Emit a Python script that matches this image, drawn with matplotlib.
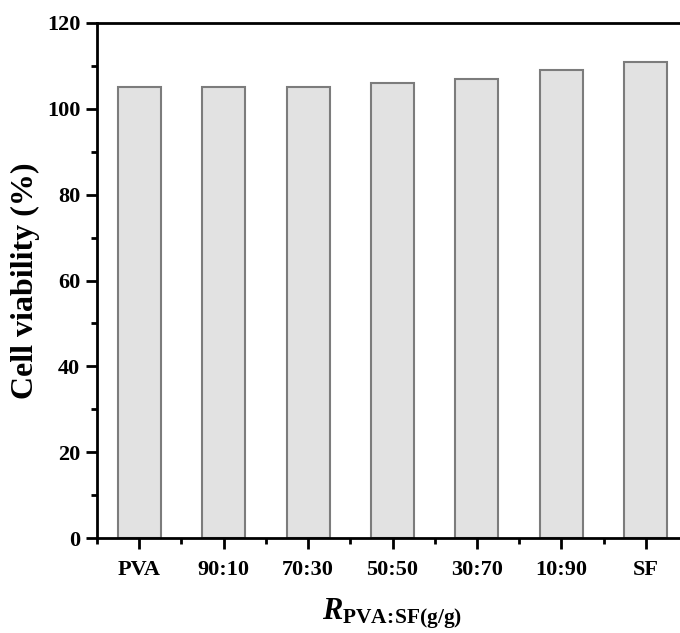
import matplotlib
matplotlib.use('Agg')
import matplotlib.pyplot as plt
from matplotlib.ticker import MultipleLocator, AutoMinorLocator

# viability per PVA:SF mass ratio
ratios = ['PVA', '90:10', '70:30', '50:50', '30:70', '10:90', 'SF']
viability = [105, 105, 105, 106, 107, 109, 111]

plt.rcParams['font.family'] = 'Liberation Serif'
plt.rcParams['font.weight'] = 'bold'
plt.rcParams['mathtext.fontset'] = 'custom'
plt.rcParams['mathtext.rm'] = 'Liberation Serif:bold'
plt.rcParams['mathtext.it'] = 'Liberation Serif:italic:bold'
plt.rcParams['mathtext.bf'] = 'Liberation Serif:bold'

fig = plt.figure(figsize=(6.8, 6.33), dpi=100)
# right edge of the frame runs past the figure border
ax = fig.add_axes([97/680, 1 - 538/633, 591/680, 515/633])

x = range(len(ratios))
ax.bar(x, viability, width=0.51, color='#e2e2e2', edgecolor='#7c7c7c', linewidth=1.5)

ax.set_xlim(-0.5, 6.5)
ax.set_ylim(0, 120)
ax.set_xticks(list(x))
ax.set_xticklabels(ratios)
ax.xaxis.set_minor_locator(AutoMinorLocator(2))
ax.yaxis.set_major_locator(MultipleLocator(20))
ax.yaxis.set_minor_locator(MultipleLocator(10))

for s in ['left', 'bottom', 'top']:
    ax.spines[s].set_linewidth(2)
ax.spines['right'].set_visible(False)
ax.tick_params(which='major', direction='out', length=8, width=2, labelsize=16, pad=4)
ax.tick_params(which='minor', direction='out', length=4, width=2)
ax.tick_params(axis='x', pad=8)

ax.set_ylabel('Cell viability (%)', fontsize=23, fontweight='bold', labelpad=5)
ax.set_xlabel(r'$\mathit{R}_{\mathbf{PVA\!:\!SF(g/g)}}$', fontsize=22, labelpad=12)

fig.savefig('out.png', dpi=100)
